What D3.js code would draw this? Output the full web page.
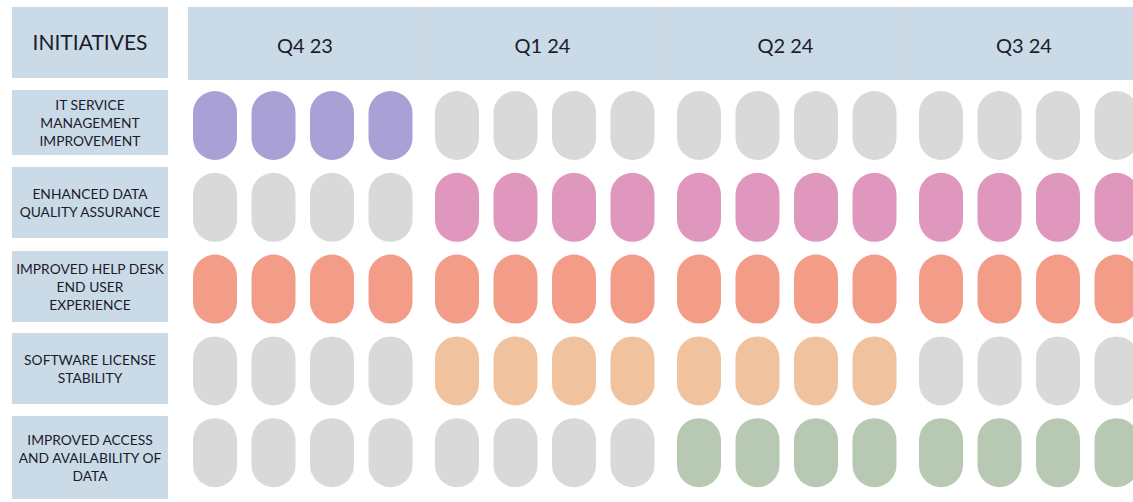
<!DOCTYPE html>
<html>
<head>
<meta charset="utf-8">
<script src="https://cdn.jsdelivr.net/npm/d3@7"></script>
<style>
    body { margin: 0; background: #ffffff; }
    svg { display: block; }
</style>
</head>
<body>
<div id="chart"></div>
<script>
//data
var initiatives = [
    ['IT SERVICE', 'MANAGEMENT', 'IMPROVEMENT'],
    ['ENHANCED DATA', 'QUALITY ASSURANCE'],
    ['IMPROVED HELP DESK', 'END USER', 'EXPERIENCE'],
    ['SOFTWARE LICENSE', 'STABILITY'],
    ['IMPROVED ACCESS', 'AND AVAILABILITY OF', 'DATA']
];
var quarters = ['Q4 23', 'Q1 24', 'Q2 24', 'Q3 24'];
var weeks = [1, 2, 3, 4];

// 1 = active in that slot, 0 = idle (grey)
var it_service   = [1,1,1,1, 0,0,0,0, 0,0,0,0, 0,0,0,0];
var data_quality = [0,0,0,0, 1,1,1,1, 1,1,1,1, 1,1,1,1];
var help_desk    = [1,1,1,1, 1,1,1,1, 1,1,1,1, 1,1,1,1];
var sw_license   = [0,0,0,0, 1,1,1,1, 1,1,1,1, 0,0,0,0];
var data_access  = [0,0,0,0, 0,0,0,0, 1,1,1,1, 1,1,1,1];
var activity = [it_service, data_quality, help_desk, sw_license, data_access];

var colors = ['#a9a0d6', '#e097bd', '#f39d88', '#f1c29e', '#b7c9b3'];
var idle_color = '#d9d9d9';

//layout
var width = 1133;
var height = 502;
var box_fill = '#cadae6';
var text_color = '#1b1b2c';
var label_box_y = [[90, 155], [167, 238], [251, 322], [333, 404], [416, 499]];
var header_edges = [188, 422, 663, 908, 1140];

var svg = d3.select('#chart')
    .append('svg')
    .attr('width', width)
    .attr('height', height);

var x_quarter = d3.scaleBand()
    .domain(quarters)
    .range([181, 181 + 242 * quarters.length]);

var x_week = d3.scaleBand()
    .domain(weeks)
    .range([12, 231.5])
    .paddingInner(0.248);

var y_row = d3.scaleBand()
    .domain(d3.range(initiatives.length))
    .range([91, 487.2])
    .paddingInner(0.156);

//header
svg.append('rect')
    .attr('x', 12)
    .attr('y', 7)
    .attr('width', 156)
    .attr('height', 71)
    .style('fill', box_fill);

svg.append('text')
    .attr('x', 90)
    .attr('y', 41)
    .attr('text-anchor', 'middle')
    .attr('dominant-baseline', 'central')
    .style('font-family', 'Lato, sans-serif')
    .style('font-size', '21px')
    .style('fill', text_color)
    .text('INITIATIVES');

svg.append('rect')
    .attr('x', header_edges[0])
    .attr('y', 7)
    .attr('width', width)
    .attr('height', 73)
    .style('fill', box_fill);

quarters.forEach(function(q, i){
    var left = header_edges[i];
    var right = header_edges[i + 1];
    if(i > 0){
        svg.append('line')
            .attr('x1', left + 0.5)
            .attr('x2', left + 0.5)
            .attr('y1', 7)
            .attr('y2', 80)
            .style('stroke', '#d2d8dd')
            .style('stroke-width', 1);
    }
    svg.append('text')
        .attr('x', (left + right) / 2)
        .attr('y', 45)
        .attr('text-anchor', 'middle')
        .attr('dominant-baseline', 'central')
        .style('font-family', 'Lato, sans-serif')
        .style('font-size', '20px')
        .style('fill', text_color)
        .text(q);
});

//rows
initiatives.forEach(function(lines, r){
    var top = label_box_y[r][0];
    var bottom = label_box_y[r][1];
    svg.append('rect')
        .attr('x', 12)
        .attr('y', top)
        .attr('width', 156)
        .attr('height', bottom - top)
        .style('fill', box_fill);

    var line_h = 18;
    var mid = (top + bottom) / 2;
    var label = svg.append('text')
        .attr('text-anchor', 'middle')
        .style('font-family', 'Lato, sans-serif')
        .style('font-size', '13.8px')
        .style('fill', text_color);
    lines.forEach(function(line, k){
        label.append('tspan')
            .attr('x', 90)
            .attr('y', mid + (k - (lines.length - 1) / 2) * line_h)
            .attr('dominant-baseline', 'central')
            .text(line);
    });

    quarters.forEach(function(q, qi){
        weeks.forEach(function(w, wi){
            var on = activity[r][qi * weeks.length + wi];
            svg.append('rect')
                .attr('class', 'pill')
                .attr('x', x_quarter(q) + x_week(w))
                .attr('y', y_row(r))
                .attr('width', x_week.bandwidth())
                .attr('height', y_row.bandwidth())
                .attr('rx', x_week.bandwidth() / 2)
                .attr('ry', x_week.bandwidth() / 2)
                .style('fill', on ? colors[r] : idle_color);
        });
    });
});
</script>
</body>
</html>
